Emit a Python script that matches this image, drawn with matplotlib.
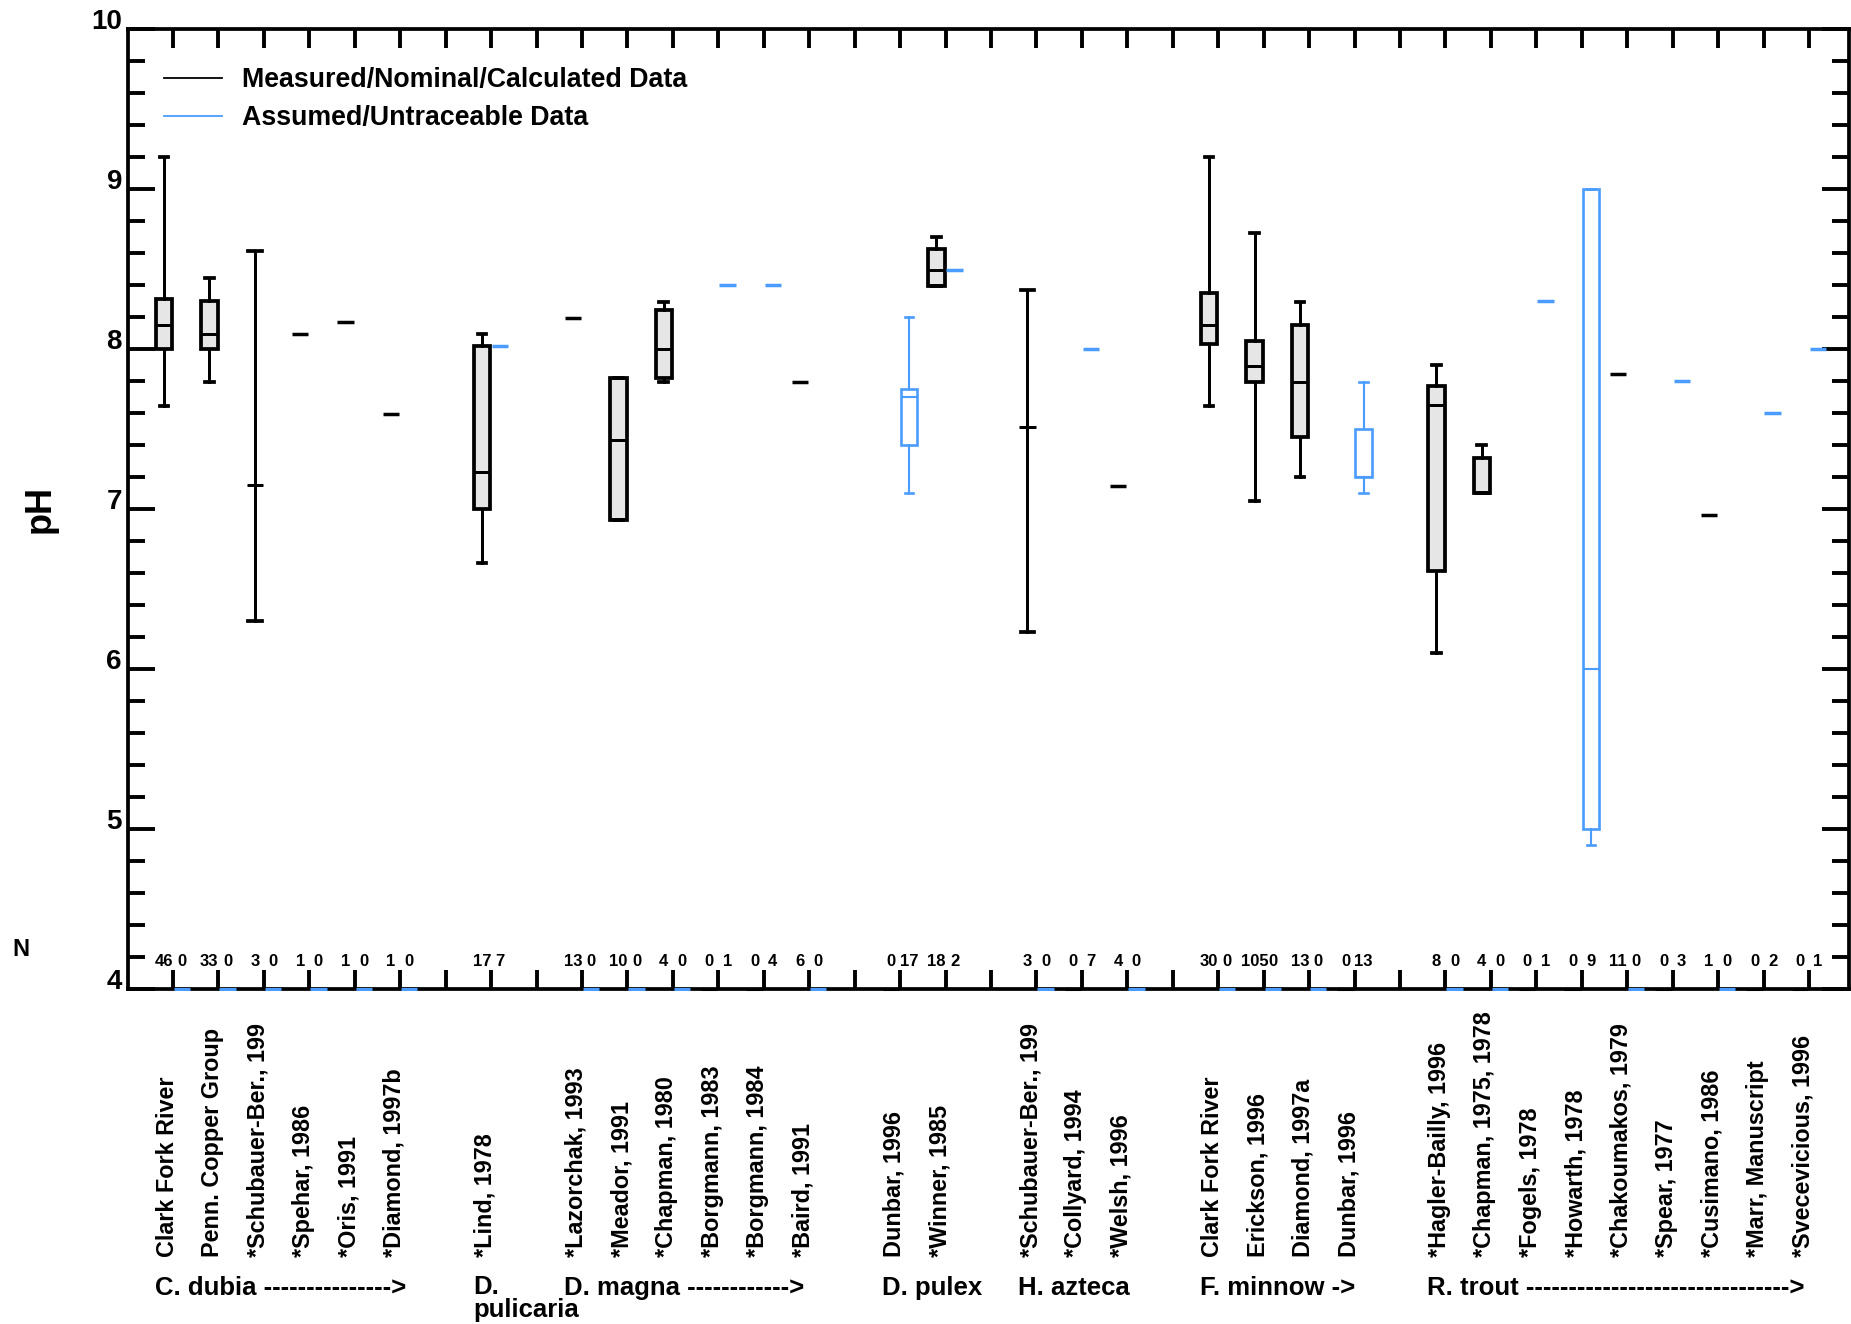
import numpy as np
import matplotlib.pyplot as plt
from matplotlib.lines import Line2D
from matplotlib.transforms import blended_transform_factory

plt.rcParams['font.family'] = ['Liberation Sans', 'DejaVu Sans']
plt.rcParams['font.weight'] = 'bold'

nan = np.nan

# one entry per x slot ('' = empty gap between species)
studies = ['Clark Fork River', 'Penn. Copper Group', '*Schubauer-Ber., 199', '*Spehar, 1986',
           '*Oris, 1991', '*Diamond, 1997b', '',
           '*Lind, 1978', '',
           '*Lazorchak, 1993', '*Meador, 1991', '*Chapman, 1980', '*Borgmann, 1983',
           '*Borgmann, 1984', '*Baird, 1991', '',
           'Dunbar, 1996', '*Winner, 1985', '',
           '*Schubauer-Ber., 199', '*Collyard, 1994', '*Welsh, 1996', '',
           'Clark Fork River', 'Erickson, 1996', 'Diamond, 1997a', 'Dunbar, 1996', '',
           '*Hagler-Bailly, 1996', '*Chapman, 1975, 1978', '*Fogels, 1978', '*Howarth, 1978',
           '*Chakoumakos, 1979', '*Spear, 1977', '*Cusimano, 1986', '*Marr, Manuscript',
           '*Svecevicious, 1996']

# N (measured, assumed)
n_meas = [46, 33, 3, 1, 1, 1, None, 17, None, 13, 10, 4, 0, 0, 6, None, 0, 18, None,
          3, 0, 4, None, 30, 105, 13, 0, None, 8, 4, 0, 0, 11, 0, 1, 0, 0]
n_assum = [0, 0, 0, 0, 0, 0, None, 7, None, 0, 0, 0, 1, 4, 0, None, 17, 2, None,
           0, 7, 0, None, 0, 0, 0, 13, None, 0, 0, 1, 9, 0, 3, 0, 2, 1]

# measured / nominal / calculated pH
meas_lo = [7.64, 7.79, 6.30, nan, nan, nan, nan, 6.66, nan, nan, nan, 7.79, nan, nan, nan, nan,
           nan, nan, nan, 6.23, nan, nan, nan, 7.64, 7.05, 7.20, nan, nan, 6.10, nan, nan, nan,
           nan, nan, nan, nan, nan]
meas_q1 = [8.00, 8.00, nan, nan, nan, nan, nan, 7.00, nan, nan, 6.93, 7.82, nan, nan, nan, nan,
           nan, 8.39, nan, nan, nan, nan, nan, 8.03, 7.79, 7.45, nan, nan, 6.61, 7.10, nan, nan,
           nan, nan, nan, nan, nan]
meas_med = [8.15, 8.09, 7.15, 8.09, 8.17, 7.59, nan, 7.23, nan, 8.19, 7.43, 8.00, nan, nan, 7.79,
            nan, nan, 8.49, nan, 7.51, nan, 7.14, nan, 8.15, 7.89, 7.79, nan, nan, 7.65, 7.10,
            nan, nan, 7.84, nan, 6.96, nan, nan]
meas_q3 = [8.31, 8.30, nan, nan, nan, nan, nan, 8.02, nan, nan, 7.82, 8.24, nan, nan, nan, nan,
           nan, 8.62, nan, nan, nan, nan, nan, 8.35, 8.05, 8.15, nan, nan, 7.77, 7.32, nan, nan,
           nan, nan, nan, nan, nan]
meas_hi = [9.20, 8.44, 8.61, nan, nan, nan, nan, 8.09, nan, nan, nan, 8.29, nan, nan, nan, nan,
           nan, 8.70, nan, 8.37, nan, nan, nan, 9.20, 8.72, 8.29, nan, nan, 7.90, 7.40, nan, nan,
           nan, nan, nan, nan, nan]

# assumed / untraceable pH
ass_lo = [nan] * 16 + [7.10] + [nan] * 9 + [7.10] + [nan] * 4 + [4.90] + [nan] * 5
ass_q1 = [nan] * 16 + [7.40] + [nan] * 9 + [7.20] + [nan] * 4 + [5.00] + [nan] * 5
ass_med = [nan, nan, nan, nan, nan, nan, nan, 8.02, nan, nan, nan, nan, 8.40, 8.40, nan, nan,
           7.70, 8.49, nan, nan, 8.00, nan, nan, nan, nan, nan, 7.20, nan, nan, nan, 8.30, 6.00,
           nan, 7.80, nan, 7.60, 8.00]
ass_q3 = [nan] * 16 + [7.75] + [nan] * 9 + [7.50] + [nan] * 4 + [9.00] + [nan] * 5
ass_hi = [nan] * 16 + [8.20] + [nan] * 9 + [7.79] + [nan] * 4 + [9.00] + [nan] * 5

groups = ['C. dubia ' + '-' * 15 + '>', 'D.\npulicaria', 'D. magna ' + '-' * 12 + '>',
          'D. pulex', 'H. azteca', 'F. minnow ->', 'R. trout ' + '-' * 31 + '>']
group_start = [1, 8, 10, 17, 20, 24, 29]   # slot of first study in each species

BLUE = '#4a9cff'
GREY = '#e6e6e6'

fig = plt.figure(figsize=(18.51, 13.24), dpi=100)
ax = fig.add_axes([0.0689, 0.2530, 0.9300, 0.7254])

pos = np.arange(1, len(studies) + 1)
off = 0.2
bw = 0.36


def draw_series(lo, q1, med, q3, hi, ns, shift, color, face, lw):
    boxed, boxed_x, bare, bare_x = [], [], [], []
    for i, p in enumerate(pos):
        if ns[i] is None:
            continue
        x = p + shift
        if ns[i] == 0:
            # empty series sits on the bottom axis
            ax.hlines(4, x - bw / 2, x + bw / 2, color=color, lw=2.2, clip_on=False, zorder=5)
            continue
        if np.isnan(med[i]):
            continue
        if all(np.isnan(v) for v in (lo[i], q1[i], q3[i], hi[i])):
            ax.hlines(med[i], x - bw / 2, x + bw / 2, color=color, lw=2.5, zorder=4)
            continue
        has_box = not np.isnan(q1[i])
        a = q1[i] if has_box else med[i]
        b = q3[i] if has_box else med[i]
        st = dict(med=med[i], q1=a, q3=b,
                  whislo=a if np.isnan(lo[i]) else lo[i],
                  whishi=b if np.isnan(hi[i]) else hi[i])
        if has_box:
            boxed.append(st)
            boxed_x.append(x)
        else:
            bare.append(st)
            bare_x.append(x)
    common = dict(widths=bw, showfliers=False, manage_ticks=False,
                  medianprops=dict(color=color, lw=lw * 0.8),
                  whiskerprops=dict(color=color, lw=lw * 0.8),
                  capprops=dict(color=color, lw=lw))
    if boxed:
        ax.bxp(boxed, positions=boxed_x, capwidths=0.19, patch_artist=True,
               boxprops=dict(facecolor=face, edgecolor=color, lw=lw), **common)
    if bare:
        ax.bxp(bare, positions=bare_x, capwidths=0.3, showbox=False, **common)


draw_series(meas_lo, meas_q1, meas_med, meas_q3, meas_hi, n_meas, -off, 'black', GREY, 2.7)
draw_series(ass_lo, ass_q1, ass_med, ass_q3, ass_hi, n_assum, off, BLUE, 'white', 1.9)

ax.set_xlim(0, 37.88)
ax.set_ylim(4, 10)

ax.set_xticks(pos)
ax.tick_params(axis='x', which='both', direction='in', top=True, bottom=True,
               length=13.5, width=2.8, labelbottom=False)
ax.set_yticks(np.arange(4, 10.01, 1))
ax.set_yticks(np.arange(4, 10.01, 0.2), minor=True)
ax.tick_params(axis='y', which='major', direction='in', left=True, right=True,
               length=19.5, width=2.8, pad=4, labelsize=20)
ax.tick_params(axis='y', which='minor', direction='in', left=True, right=True,
               length=12.5, width=2.8)
for t in ax.yaxis.get_majorticklabels():
    t.set_verticalalignment('baseline')
for s in ax.spines.values():
    s.set_linewidth(2.7)

# N row
for i, p in enumerate(pos):
    if n_meas[i] is not None:
        ax.text(p - off, 4.17, str(n_meas[i]), ha='center', va='center', fontsize=12)
    if n_assum[i] is not None:
        ax.text(p + off, 4.17, str(n_assum[i]), ha='center', va='center', fontsize=12)

# study labels
tr = blended_transform_factory(ax.transData, fig.transFigure)
for i, p in enumerate(pos):
    if studies[i]:
        ax.text(p - 0.13, 0.0506, studies[i], rotation=90, ha='center', va='bottom',
                fontsize=16.8, transform=tr)

# species labels (baseline of last line)
for g, s in zip(groups, group_start):
    y = 1 - (1295 + 22 * g.count('\n')) / 1324
    ax.text(s - 0.4, y, g, ha='left', va='baseline', fontsize=18.5,
            linespacing=0.95, transform=tr)

fig.text(40 / 1851, 1 - 509 / 1324, 'pH', rotation=90, fontsize=26, ha='center', va='center')
fig.text(21 / 1851, 1 - 950 / 1324, 'N', fontsize=17, ha='center', va='center')

handles = [Line2D([], [], color='black', lw=1.3), Line2D([], [], color=BLUE, lw=1.3)]
ax.legend(handles, ['Measured/Nominal/Calculated Data', 'Assumed/Untraceable Data'],
          loc='upper left', bbox_to_anchor=(0.0212, 0.9595), borderaxespad=0, borderpad=0,
          frameon=False, fontsize=19.3, handlelength=2.17, handletextpad=0.75,
          labelspacing=0.43)

fig.savefig('out.png', dpi=100)
